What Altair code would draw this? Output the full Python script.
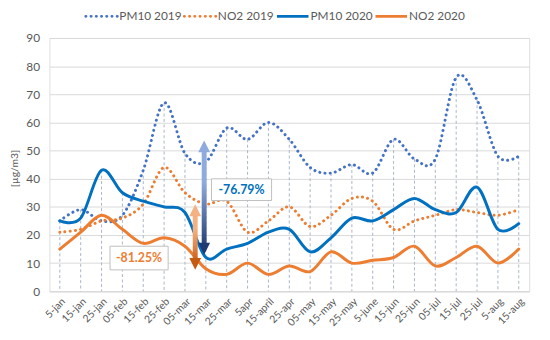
import json
import altair as alt
import pandas as pd

# ---------------- data ----------------
cats = ["5-jan", "15-jan", "25-jan", "05-feb", "15-feb", "25-feb", "05-mar",
        "15-mar", "25-mar", "5apr", "15-april", "25-apr", "05-may", "15-may",
        "25-may", "5-june", "15-jun", "25-jun", "05-jul", "15-jul", "25-jul",
        "5-aug", "15-aug"]

pm10_2019 = [25, 29, 25, 27, 43, 67, 49, 46, 58, 54, 60, 54, 44, 42, 45, 42,
             54, 47, 47, 76, 68, 48, 48]
no2_2019 = [21, 22, 25, 26, 31, 44, 35, 31, 32, 21, 25, 30, 23, 27, 33, 32,
            22, 25, 27, 29, 28, 27, 29]
pm10_2020 = [25, 26, 43, 35, 32, 30, 28, 12, 15, 17, 21, 22, 14, 19, 26, 25,
             29, 33, 29, 28, 37, 22, 24]
no2_2020 = [15, 21, 27, 22, 17, 19, 16, 8, 6, 10, 6, 9, 7, 14, 10, 11, 12, 16,
            9, 12, 16, 10, 15]

series_names = ["PM10 2019", "NO2 2019", "PM10 2020", "NO2 2020"]
series_values = [pm10_2019, no2_2019, pm10_2020, no2_2020]

# annotation: percentage change labels and their arrows (2019 -> 2020)
ann_labels = ["-76.79%", "-81.25%"]
ann_arrow_at = [6.92, 6.49]        # position along the category axis
ann_arrow_from = [53.6, 30.9]      # top of arrow (value)
ann_arrow_to = [13.0, 7.6]         # bottom of arrow (value)
ann_label_at = [8.71, 3.80]        # label centre, category axis
ann_label_val = [36.1, 11.8]       # label centre, value axis

# ---------------- styling ----------------
FONT = "Lato"
GREY = "#595959"
GRID = "#D9D9D9"
colors = ["#4472C4", "#ED7D31", "#0070C0", "#ED7D31"]
dotted = [True, True, False, False]

W, H = 487, 257
PX_PER_UNIT_X = W / 23.0
PX_PER_UNIT_Y = H / 90.0

xscale = alt.Scale(domain=[-0.5, 22.5], nice=False, zero=False)
yscale = alt.Scale(domain=[0, 90], nice=False, zero=True)

label_expr = json.dumps(cats) + "[datum.value]"

x_axis = alt.Axis(values=list(range(len(cats))), labelExpr=label_expr,
                  labelAngle=-45, grid=False, ticks=False, domainColor=GRID,
                  labelColor=GREY, labelFont=FONT, labelFontSize=10.5,
                  labelPadding=5, labelOverlap=False, title="")
y_axis = alt.Axis(values=list(range(0, 91, 10)), grid=True, gridColor=GRID,
                  domain=False, ticks=False, labelColor=GREY, labelFont=FONT,
                  labelFontSize=12, labelPadding=10, title="[µg/m3]",
                  titleColor=GREY, titleFont=FONT, titleFontSize=10.5,
                  titleFontWeight="normal", titleX=-35, titleY=132,
                  titleAngle=270, titleAlign="center", titleBaseline="middle")


def X(field):
    return alt.X(field, scale=xscale, axis=x_axis)


def Y(field):
    return alt.Y(field, scale=yscale, axis=y_axis)


# ---------------- drop lines ----------------
drop_df = pd.DataFrame({
    "idx": list(range(len(cats))),
    "top": [max(v) for v in zip(*series_values)],
    "zero": [0] * len(cats),
})
drop = alt.Chart(drop_df).mark_rule(color="#A9B5CA", strokeWidth=1,
                                    strokeDash=[3, 2.5]).encode(
    x=X("idx:Q"), y=Y("top:Q"), y2="zero:Q",
)

layers = [drop]

# ---------------- series lines ----------------
for name, vals, col, dot in zip(series_names, series_values, colors, dotted):
    df = pd.DataFrame({"idx": list(range(len(cats))), "value": vals,
                       "series": name})
    kw = dict(interpolate="cardinal", color=col, strokeCap="round",
              strokeWidth=3)
    if dot:
        kw.update(strokeDash=[0.1, 5.2])
    layers.append(alt.Chart(df).mark_line(**kw).encode(
        x=X("idx:Q"), y=Y("value:Q"), detail="series:N",
    ))

# ---------------- arrows ----------------
arrow_grads = [
    ("#8FAADC", "#1F3A73"),
    ("#F4B183", "#C55A11"),
]
head_px = 12
shaft_px = 5
for i in range(len(ann_labels)):
    xc = ann_arrow_at[i]
    top = ann_arrow_from[i]
    bot = ann_arrow_to[i]
    half_y = (head_px / 2) / PX_PER_UNIT_Y
    half_x = (shaft_px / 2) / PX_PER_UNIT_X
    light, dark = arrow_grads[i]
    grad = alt.LinearGradient(
        gradient="linear", x1=0, y1=0, x2=0, y2=1,
        stops=[alt.GradientStop(offset=0, color=light),
               alt.GradientStop(offset=0.35, color=light),
               alt.GradientStop(offset=1, color=dark)])
    shaft_df = pd.DataFrame({"x": [xc - half_x], "x2": [xc + half_x],
                             "y": [top - half_y], "y2": [bot + half_y]})
    layers.append(alt.Chart(shaft_df).mark_rect(color=grad).encode(
        x=X("x:Q"), x2="x2:Q", y=Y("y:Q"), y2="y2:Q"))
    head_df = pd.DataFrame({"x": [xc], "y": [top - half_y]})
    layers.append(alt.Chart(head_df).mark_point(
        shape="M-1,1L0,-1L1,1Z", filled=True, opacity=1, size=head_px ** 2,
        color=light).encode(x=X("x:Q"), y=Y("y:Q")))
    head_df2 = pd.DataFrame({"x": [xc], "y": [bot + half_y]})
    layers.append(alt.Chart(head_df2).mark_point(
        shape="M-1,-1L0,1L1,-1Z", filled=True, opacity=1, size=head_px ** 2,
        color=dark).encode(x=X("x:Q"), y=Y("y:Q")))

# ---------------- label boxes ----------------
box_w_px = [61, 59]
box_h_px = [22, 24]
text_colors = ["#0070C0", "#ED7D31"]
for i, lab in enumerate(ann_labels):
    hw = box_w_px[i] / 2 / PX_PER_UNIT_X
    hh = box_h_px[i] / 2 / PX_PER_UNIT_Y
    bdf = pd.DataFrame({"x": [ann_label_at[i] - hw], "x2": [ann_label_at[i] + hw],
                        "y": [ann_label_val[i] - hh], "y2": [ann_label_val[i] + hh]})
    layers.append(alt.Chart(bdf).mark_rect(fill="white", stroke="#BFBFBF",
                                           strokeWidth=1).encode(
        x=X("x:Q"), x2="x2:Q", y=Y("y:Q"), y2="y2:Q"))
    tdf = pd.DataFrame({"x": [ann_label_at[i]], "y": [ann_label_val[i]],
                        "t": [lab]})
    layers.append(alt.Chart(tdf).mark_text(
        font=FONT, fontSize=12.5, fontWeight="bold", color=text_colors[i],
        align="center", baseline="middle").encode(
        x=X("x:Q"), y=Y("y:Q"), text="t:N"))

# ---------------- legend (top) ----------------
leg_sym_x = [37, 137, 231, 331]
leg_sym_len = 32
leg_y = -22
for name, col, dot, sx in zip(series_names, colors, dotted, leg_sym_x):
    ldf = pd.DataFrame({"t": [name]})
    kw = dict(color=col, strokeWidth=3)
    if dot:
        kw.update(strokeDash=[0.1, 5.2], strokeCap="round")
    else:
        kw.update(strokeCap="butt")
    layers.append(alt.Chart(ldf).mark_rule(**kw).encode(
        x=alt.value(sx), x2=alt.value(sx + leg_sym_len), y=alt.value(leg_y)))
    layers.append(alt.Chart(ldf).mark_text(
        font=FONT, fontSize=12, color=GREY, align="left",
        baseline="middle").encode(
        x=alt.value(sx + leg_sym_len + 2), y=alt.value(leg_y), text="t:N"))

chart = alt.layer(*layers).properties(
    width=W, height=H,
    autosize=alt.AutoSizeParams(type="none"),
    padding={"left": 42, "top": 28, "right": 13, "bottom": 47},
).configure_view(stroke=None).configure(background="white")

chart.save("out.html", embed_options={"renderer": "svg", "actions": False})
